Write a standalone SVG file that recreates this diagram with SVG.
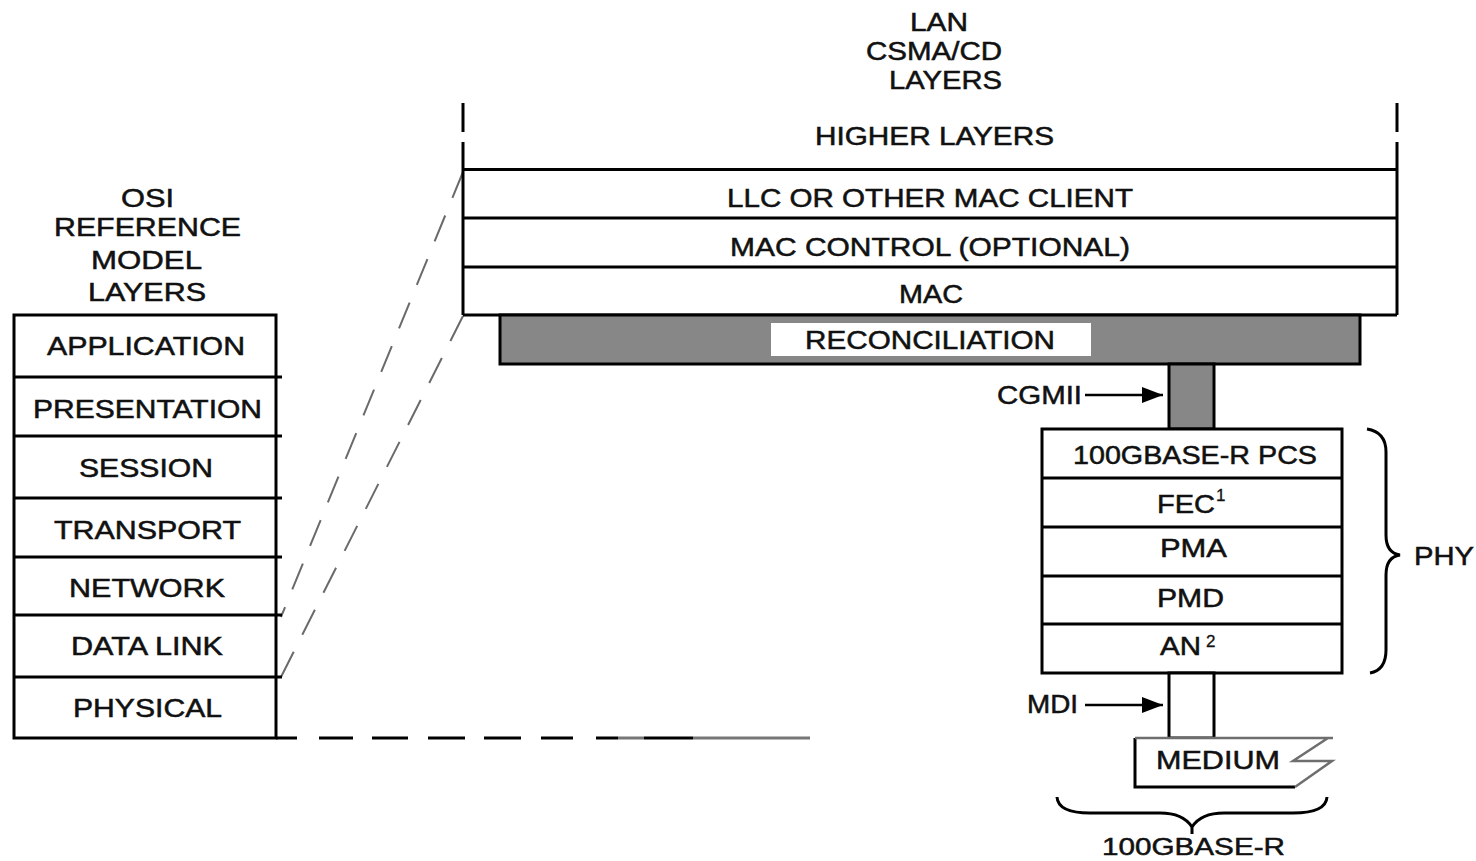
<svg xmlns="http://www.w3.org/2000/svg" width="1476" height="861" viewBox="0 0 1476 861">
<style>
text{font-family:"Liberation Sans",Arial,sans-serif;font-size:25px;fill:#111;stroke:#111;stroke-width:0.5}
.sup{font-size:17px;stroke-width:0.3}
.box{fill:#fff;stroke:#000;stroke-width:3}
.ln{stroke:#000;stroke-width:3;fill:none}
.grey{fill:#878787;stroke:#000;stroke-width:3}
.dash{stroke:#6a6a6a;stroke-width:2;stroke-dasharray:28 19;fill:none}
.arr{stroke:#000;stroke-width:2.5;fill:none}
.brace{stroke:#000;stroke-width:3;fill:none}
</style>
<defs>
<marker id="ah" markerUnits="userSpaceOnUse" markerWidth="21" markerHeight="16" refX="21" refY="8" orient="auto">
<path d="M0,0 L21,8 L0,16 z" fill="#000"/>
</marker>
</defs>
<rect width="1476" height="861" fill="#fff"/>

<g id="connectors">
<path class="dash" d="M463,172 L281,617"/>
<path class="dash" d="M463,316 L281,677"/>
<g id="phys-dash" stroke-width="3">
<path d="M276,738 H297 M319,738 H353 M372,738 H408 M428,738 H465 M484,738 H521 M541,738 H573 M596,738 H618 M644,738 H693" stroke="#000"/>
<path d="M618,738 H644 M693,738 H810" stroke="#777"/>
</g>
<path class="arr" d="M1085,395 H1163" marker-end="url(#ah)"/>
<path class="arr" d="M1085,705 H1163" marker-end="url(#ah)"/>
</g>

<g id="osi-title">
<text x="121" y="207" textLength="53" lengthAdjust="spacingAndGlyphs">OSI</text>
<text x="54" y="236" textLength="187" lengthAdjust="spacingAndGlyphs">REFERENCE</text>
<text x="91" y="269" textLength="111" lengthAdjust="spacingAndGlyphs">MODEL</text>
<text x="88" y="301" textLength="118" lengthAdjust="spacingAndGlyphs">LAYERS</text>
</g>

<g id="osi-stack">
<rect class="box" x="14" y="315" width="262" height="423"/>
<path class="ln" d="M14,377 H282 M14,436 H282 M14,498 H282 M14,557 H282 M14,615 H282 M14,677 H282"/>
<text x="47" y="355" textLength="198" lengthAdjust="spacingAndGlyphs">APPLICATION</text>
<text x="33" y="418" textLength="229" lengthAdjust="spacingAndGlyphs">PRESENTATION</text>
<text x="79" y="477" textLength="134" lengthAdjust="spacingAndGlyphs">SESSION</text>
<text x="54" y="539" textLength="187" lengthAdjust="spacingAndGlyphs">TRANSPORT</text>
<text x="69" y="597" textLength="156" lengthAdjust="spacingAndGlyphs">NETWORK</text>
<text x="71" y="655" textLength="152" lengthAdjust="spacingAndGlyphs">DATA LINK</text>
<text x="73" y="717" textLength="149" lengthAdjust="spacingAndGlyphs">PHYSICAL</text>
</g>

<g id="lan-title">
<text x="910" y="31" textLength="58" lengthAdjust="spacingAndGlyphs">LAN</text>
<text x="866" y="60" textLength="136" lengthAdjust="spacingAndGlyphs">CSMA/CD</text>
<text x="889" y="89" textLength="113" lengthAdjust="spacingAndGlyphs">LAYERS</text>
</g>

<g id="lan-stack">
<rect x="463" y="169.5" width="934" height="145.5" fill="#fff"/>
<path class="ln" d="M463,103 V132 M463,142 V315 M1397,103 V132 M1397,142 V315 M463,169.5 H1397 M463,218 H1397 M463,267 H1397 M463,315 H1397"/>
<text x="815" y="145" textLength="239" lengthAdjust="spacingAndGlyphs">HIGHER LAYERS</text>
<text x="727" y="207" textLength="406" lengthAdjust="spacingAndGlyphs">LLC OR OTHER MAC CLIENT</text>
<text x="730" y="256" textLength="400" lengthAdjust="spacingAndGlyphs">MAC CONTROL (OPTIONAL)</text>
<text x="899" y="303" textLength="64" lengthAdjust="spacingAndGlyphs">MAC</text>
</g>

<g id="reconciliation">
<rect class="grey" x="500" y="315" width="860" height="49"/>
<rect x="771" y="323" width="320" height="33" fill="#fff"/>
<text x="805" y="349" textLength="250" lengthAdjust="spacingAndGlyphs">RECONCILIATION</text>
</g>

<g id="cgmii">
<rect class="grey" x="1169" y="364" width="45" height="65"/>
<text x="997" y="404" textLength="85" lengthAdjust="spacingAndGlyphs">CGMII</text>
</g>

<g id="phy-stack">
<rect class="box" x="1042" y="429" width="300" height="244"/>
<path class="ln" d="M1042,478 H1342 M1042,527 H1342 M1042,576 H1342 M1042,624 H1342"/>
<text x="1073" y="464" textLength="244" lengthAdjust="spacingAndGlyphs">100GBASE-R PCS</text>
<text x="1157" y="513" textLength="58" lengthAdjust="spacingAndGlyphs">FEC</text>
<text class="sup" x="1216" y="501">1</text>
<text x="1160" y="655" textLength="41" lengthAdjust="spacingAndGlyphs">AN</text>
<text class="sup" x="1206" y="647">2</text>
<text x="1160" y="557" textLength="67" lengthAdjust="spacingAndGlyphs">PMA</text>
<text x="1157" y="607" textLength="67" lengthAdjust="spacingAndGlyphs">PMD</text>
</g>

<g id="phy-brace">
<path class="brace" d="M1367,429 Q1386,432 1386,452 L1386,535 Q1386,553 1400,555 Q1386,557 1386,575 L1386,650 Q1386,670 1370,673"/>
<text x="1414" y="565" textLength="60" lengthAdjust="spacingAndGlyphs">PHY</text>
</g>

<g id="mdi">
<rect class="box" x="1169" y="673" width="45" height="65"/>
<text x="1027" y="713" textLength="51" lengthAdjust="spacingAndGlyphs">MDI</text>
</g>

<g id="medium">
<path d="M1135,738 H1328 L1293,761 H1332 L1295,787 H1135 Z" fill="#fff" stroke="none"/>
<path d="M1135,738 V787 H1295" stroke="#000" stroke-width="3" fill="none"/>
<path d="M1135,738 H1333 M1328,738 L1293,761 H1332 L1295,787" stroke="#6e6e6e" stroke-width="2.5" fill="none"/>
<text x="1156" y="769" textLength="124" lengthAdjust="spacingAndGlyphs">MEDIUM</text>
</g>

<g id="bottom-brace">
<path class="brace" d="M1057,797 Q1058,813 1090,813 L1160,813 Q1183,813 1192,827 Q1201,813 1224,813 L1293,813 Q1326,813 1327,797 M1192,826 V834"/>
<text x="1102" y="855" font-size="24" textLength="183" lengthAdjust="spacingAndGlyphs" style="font-size:24px">100GBASE-R</text>
</g>
</svg>
